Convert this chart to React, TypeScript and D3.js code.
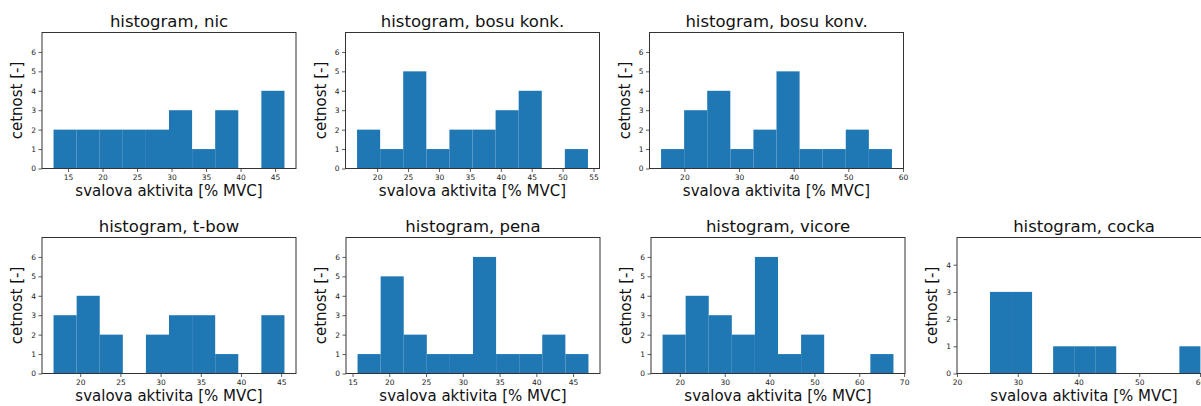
import { useEffect, useRef } from "react";
import * as d3 from "d3";

// one entry per panel, in reading order
const titles = [
  "histogram, nic",
  "histogram, bosu konk.",
  "histogram, bosu konv.",
  "histogram, t-bow",
  "histogram, pena",
  "histogram, vicore",
  "histogram, cocka",
];
const binLo = [12.9, 16.75, 15.73, 16.68, 15.68, 16.14, 25.43];
const binHi = [46.36, 54.1, 57.98, 45.41, 47.09, 67.62, 60.06];

const countsNic = [2, 2, 2, 2, 2, 3, 1, 3, 0, 4];
const countsKonk = [2, 1, 5, 1, 2, 2, 3, 4, 0, 1];
const countsKonv = [1, 3, 4, 1, 2, 5, 1, 1, 2, 1];
const countsTbow = [3, 4, 2, 0, 2, 3, 3, 1, 0, 3];
const countsPena = [1, 5, 2, 1, 1, 6, 1, 1, 2, 1];
const countsVicore = [2, 4, 3, 2, 6, 1, 2, 0, 0, 1];
const countsCocka = [3, 3, 0, 1, 1, 1, 0, 0, 0, 1];
const counts = [countsNic, countsKonk, countsKonv, countsTbow, countsPena, countsVicore, countsCocka];

const xTicks = [
  [15, 20, 25, 30, 35, 40, 45],
  [20, 25, 30, 35, 40, 45, 50, 55],
  [20, 30, 40, 50, 60],
  [20, 25, 30, 35, 40, 45],
  [15, 20, 25, 30, 35, 40, 45],
  [20, 30, 40, 50, 60, 70],
  [20, 30, 40, 50, 60],
];
const yMax = [7, 7, 7, 7, 7, 7, 5];
// cocka has its x limits fixed, the rest use a 5% margin round the bins
const xLimits: ([number, number] | null)[] = [null, null, null, null, null, null, [20, 61.8]];

const xLabel = "svalova aktivita [% MVC]";
const yLabel = "cetnost [-]";

// axes boxes in pixels
const boxes = [
  { left: 42, top: 32.5 },
  { left: 345.5, top: 32.5 },
  { left: 649.5, top: 32.5 },
  { left: 42, top: 237.5 },
  { left: 346, top: 237.5 },
  { left: 651, top: 237.5 },
  { left: 957, top: 237.5 },
];
const boxW = 254;
const boxH = 136;

export default function App() {
  const ref = useRef<SVGSVGElement>(null);

  useEffect(() => {
    const svg = d3.select(ref.current);
    svg.selectAll("*").remove();
    const font = "'DejaVu Sans', sans-serif";

    titles.forEach((title, i) => {
      const { left, top } = boxes[i];
      const lo = binLo[i];
      const hi = binHi[i];
      const pad = (hi - lo) * 0.05;
      const domain = xLimits[i] ?? [lo - pad, hi + pad];
      const x = d3.scaleLinear().domain(domain).range([0, boxW]);
      const y = d3.scaleLinear().domain([0, yMax[i]]).range([boxH, 0]);
      const n = counts[i].length;
      const w = (hi - lo) / n;

      const g = svg.append("g").attr("transform", `translate(${left},${top})`);

      g.append("g")
        .selectAll("rect")
        .data(counts[i])
        .join("rect")
        .attr("x", (_, k) => x(lo + k * w))
        .attr("width", (_, k) => x(lo + (k + 1) * w) - x(lo + k * w))
        .attr("y", (d) => y(d))
        .attr("height", (d) => boxH - y(d))
        .attr("fill", "#1f77b4");

      const xa = g
        .append("g")
        .attr("transform", `translate(0,${boxH})`)
        .call(d3.axisBottom(x).tickValues(xTicks[i]).tickSize(3.5).tickSizeOuter(0).tickPadding(2.5).tickFormat(d3.format("d")));
      const ya = g
        .append("g")
        .call(
          d3.axisLeft(y).tickValues(d3.range(0, yMax[i])).tickSize(3.5).tickSizeOuter(0).tickPadding(2.5).tickFormat(d3.format("d"))
        );
      [xa, ya].forEach((a) => {
        a.select(".domain").remove();
        a.selectAll("line").attr("stroke", "#333").attr("stroke-width", 0.8);
        a.selectAll("text").attr("font-size", 7.5).attr("font-family", font).attr("fill", "#222");
      });

      g.append("rect")
        .attr("width", boxW)
        .attr("height", boxH)
        .attr("fill", "none")
        .attr("stroke", "#333")
        .attr("stroke-width", 1);

      g.append("text")
        .attr("x", boxW / 2)
        .attr("y", -5.5)
        .attr("text-anchor", "middle")
        .attr("font-family", font)
        .attr("font-size", 16.5)
        .attr("fill", "#111")
        .text(title);

      g.append("text")
        .attr("x", boxW / 2)
        .attr("y", boxH + 27)
        .attr("text-anchor", "middle")
        .attr("font-family", font)
        .attr("font-size", 15)
        .attr("fill", "#111")
        .text(xLabel);

      g.append("text")
        .attr("transform", `translate(-20,${boxH / 2}) rotate(-90)`)
        .attr("text-anchor", "middle")
        .attr("font-family", font)
        .attr("font-size", 15)
        .attr("fill", "#111")
        .text(yLabel);
    });
  }, []);

  return (
    <svg
      ref={ref}
      width={1201}
      height={406}
      style={{ position: "absolute", left: 0, top: 0, background: "#fff" }}
    />
  );
}
